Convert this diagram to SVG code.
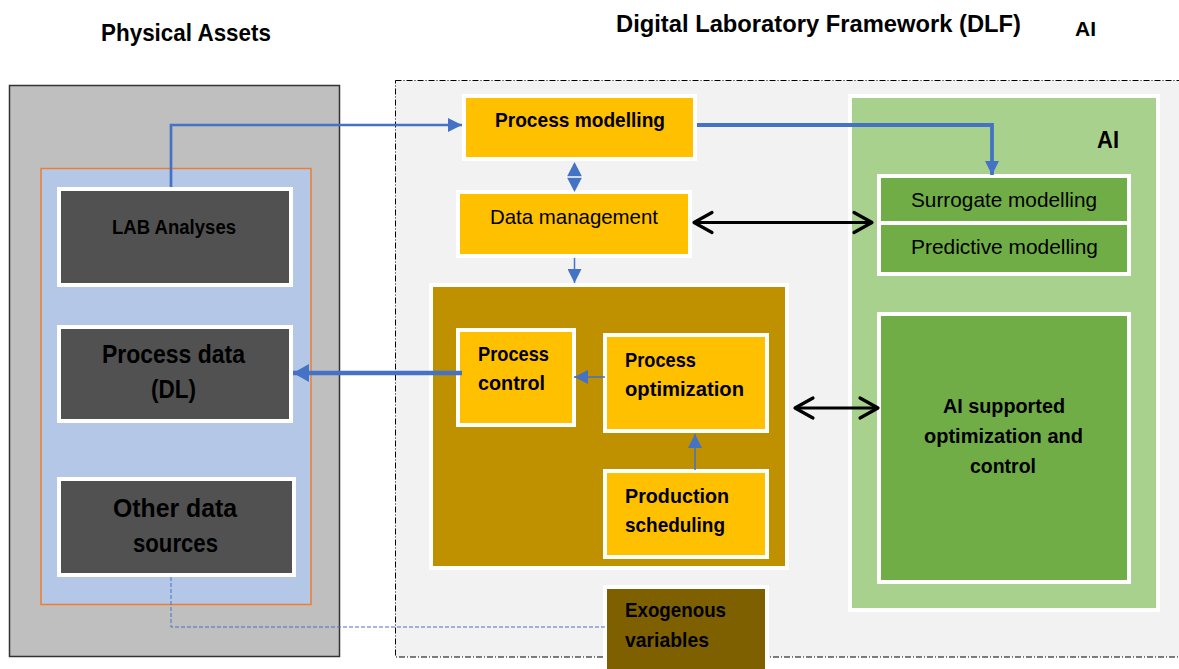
<svg xmlns="http://www.w3.org/2000/svg" width="1179" height="669" viewBox="0 0 1179 669">
<defs>
<style>
text{font-family:"Liberation Sans",Arial,sans-serif;fill:#000}
.b{font-weight:bold}
.t{font-size:24px;font-weight:bold}
.n20{font-size:20px}
.n21{font-size:21px}
.n25{font-size:25px}
.wb{stroke:#fff;stroke-width:4}
.dark{fill:#515151}
.yel{fill:#ffc000}
.grn{fill:#70ad47}
.blue{stroke:#4472c4;fill:none}
.blk{stroke:#000;stroke-width:3;fill:none}
</style>
<marker id="bt" markerUnits="userSpaceOnUse" markerWidth="14" markerHeight="14" refX="14" refY="7" orient="auto"><path d="M0,0L14,7L0,14z" fill="#4472c4"/></marker>
<marker id="bbig" markerUnits="userSpaceOnUse" markerWidth="16" markerHeight="18" refX="16" refY="9" orient="auto"><path d="M0,0L16,9L0,18z" fill="#4472c4"/></marker>
<marker id="ch" markerUnits="userSpaceOnUse" markerWidth="24" markerHeight="26" refX="21" refY="13" orient="auto-start-reverse"><path d="M3,3L21,13L3,23" fill="none" stroke="#000" stroke-width="3.2" stroke-linecap="round" stroke-linejoin="round"/></marker>
</defs>

<text class="t" x="101" y="41" textLength="170" lengthAdjust="spacingAndGlyphs">Physical Assets</text>
<text class="t" x="616" y="32" textLength="405" lengthAdjust="spacingAndGlyphs">Digital Laboratory Framework (DLF)</text>
<text class="b" style="font-size:20px" x="1075" y="36" textLength="21" lengthAdjust="spacingAndGlyphs">AI</text>

<g id="physical-assets">
<rect x="9.5" y="85.5" width="330" height="571" fill="#bfbfbf" stroke="#333" stroke-width="1.5"/>
<rect x="41" y="168.5" width="270" height="436" fill="#b4c7e7" stroke="#ed7d31" stroke-width="1.5"/>
</g>

<g id="dlf-frame">
<rect x="395.5" y="80.5" width="800" height="576.5" fill="#f2f2f2" stroke="#000" stroke-width="1" stroke-dasharray="6 2 1 2"/>
</g>

<g id="lab-analyses">
<rect class="dark wb" x="59" y="189" width="232" height="96"/>
<text class="b n20" x="112" y="234" textLength="124" lengthAdjust="spacingAndGlyphs">LAB Analyses</text>
</g>
<g id="process-data">
<rect class="dark wb" x="59" y="327" width="232" height="94"/>
<text class="b n25" x="102" y="363" textLength="143" lengthAdjust="spacingAndGlyphs">Process data</text>
<text class="b n25" x="151" y="398" textLength="45" lengthAdjust="spacingAndGlyphs">(DL)</text>
</g>
<g id="other-data">
<rect class="dark wb" x="59" y="479" width="235" height="96"/>
<text class="b n25" x="113" y="517" textLength="124" lengthAdjust="spacingAndGlyphs">Other data</text>
<text class="b n25" x="133" y="552" textLength="85" lengthAdjust="spacingAndGlyphs">sources</text>
</g>

<g id="process-modelling">
<rect class="yel wb" x="464" y="96" width="231" height="63"/>
<text class="b n21" x="495" y="127" textLength="170" lengthAdjust="spacingAndGlyphs">Process modelling</text>
</g>
<g id="data-management">
<rect class="yel wb" x="458" y="192" width="232" height="64"/>
<text class="n21" x="490" y="224" textLength="168" lengthAdjust="spacingAndGlyphs">Data management</text>
</g>

<g id="operations">
<rect class="wb" fill="#bf9000" x="431" y="285" width="356" height="283"/>
</g>
<g id="process-control">
<rect class="yel wb" x="458" y="330" width="116" height="95"/>
<text class="b n21" x="478" y="361" textLength="71" lengthAdjust="spacingAndGlyphs">Process</text>
<text class="b n21" x="478" y="390" textLength="67" lengthAdjust="spacingAndGlyphs">control</text>
</g>
<g id="process-optimization">
<rect class="yel wb" x="605" y="335" width="162" height="96"/>
<text class="b n21" x="625" y="367" textLength="71" lengthAdjust="spacingAndGlyphs">Process</text>
<text class="b n21" x="625" y="396" textLength="119" lengthAdjust="spacingAndGlyphs">optimization</text>
</g>
<g id="production-scheduling">
<rect class="yel wb" x="605" y="471" width="162" height="86"/>
<text class="b n21" x="625" y="503" textLength="104" lengthAdjust="spacingAndGlyphs">Production</text>
<text class="b n21" x="625" y="532" textLength="100" lengthAdjust="spacingAndGlyphs">scheduling</text>
</g>
<g id="exogenous-variables">
<rect class="wb" fill="#7f6000" x="605" y="587" width="162" height="100"/>
<text class="b n21" x="625" y="617" textLength="101" lengthAdjust="spacingAndGlyphs">Exogenous</text>
<text class="b n21" x="625" y="647" textLength="84" lengthAdjust="spacingAndGlyphs">variables</text>
</g>

<g id="ai">
<rect class="wb" fill="#a9d18e" x="850" y="96" width="308" height="514"/>
<text class="b" style="font-size:23px" x="1097" y="148" textLength="22" lengthAdjust="spacingAndGlyphs">AI</text>
</g>
<g id="surrogate-modelling">
<rect class="grn wb" x="879" y="176" width="250" height="47"/>
<text class="n21" x="911" y="207" textLength="186" lengthAdjust="spacingAndGlyphs">Surrogate modelling</text>
</g>
<g id="predictive-modelling">
<rect class="grn wb" x="879" y="223" width="250" height="51"/>
<text class="n21" x="911" y="254" textLength="187" lengthAdjust="spacingAndGlyphs">Predictive modelling</text>
</g>
<g id="ai-optimization">
<rect class="grn wb" x="879" y="314" width="250" height="268"/>
<text class="b n20" x="943" y="413" textLength="122" lengthAdjust="spacingAndGlyphs">AI supported</text>
<text class="b n20" x="924" y="443" textLength="159" lengthAdjust="spacingAndGlyphs">optimization and</text>
<text class="b n20" x="970" y="473" textLength="66" lengthAdjust="spacingAndGlyphs">control</text>
</g>

<g id="connectors">
<path class="blue" stroke-width="2.7" d="M171,187V125H462" marker-end="url(#bt)"/>
<path class="blue" stroke-width="3.8" d="M697,125H992V175" marker-end="url(#bt)"/>
<path d="M567,176.5L574.5,162L582,176.5z" fill="#4472c4"/>
<path d="M567,177.5L574.5,192L582,177.5z" fill="#4472c4"/>
<line x1="566" y1="177" x2="583" y2="177" stroke="#fff" stroke-width="1"/>
<path class="blue" stroke-width="1.5" d="M574.5,258V283" marker-end="url(#bt)"/>
<path class="blue" stroke-width="1.5" d="M605,377H574" marker-end="url(#bt)"/>
<path class="blue" stroke-width="1.5" d="M695,470V434" marker-end="url(#bt)"/>
<path class="blue" stroke-width="4.5" d="M462,373H293" marker-end="url(#bbig)"/>
<path class="blue" stroke-width="1" stroke-dasharray="4 2" d="M171,577V627H606"/>
<path class="blk" d="M694,222.5H872" marker-start="url(#ch)" marker-end="url(#ch)"/>
<path class="blk" d="M795,408H878" marker-start="url(#ch)" marker-end="url(#ch)"/>
</g>
</svg>
